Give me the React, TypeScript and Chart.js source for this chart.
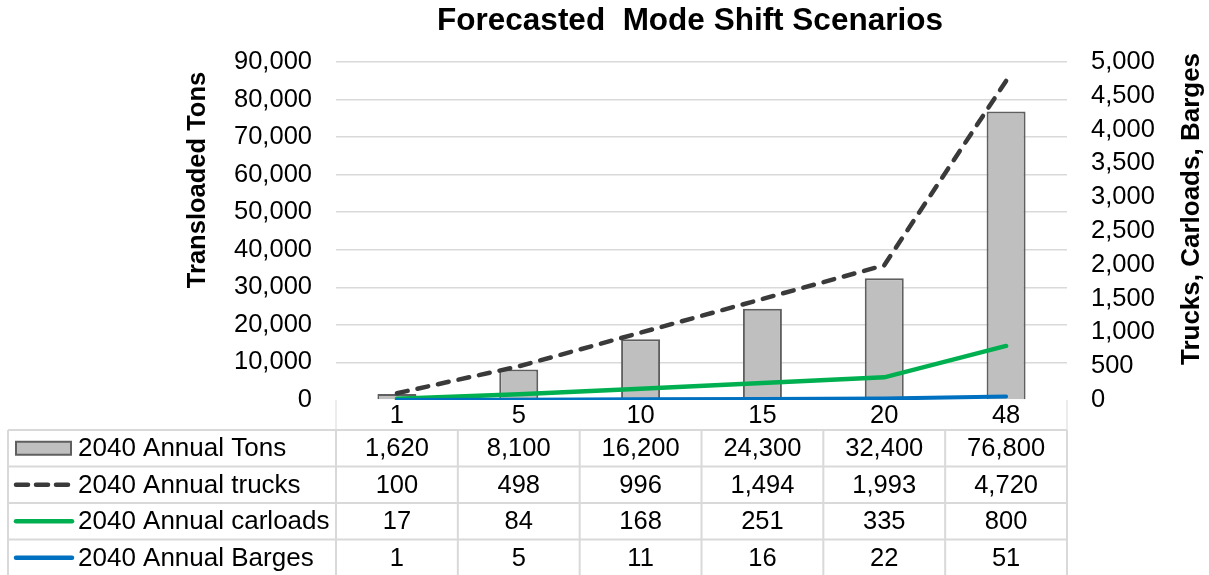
import React, { useEffect, useRef } from "react";
import { Chart, registerables } from "chart.js";

Chart.register(...registerables);

const chartTitle = "Forecasted  Mode Shift Scenarios";
const leftAxisTitle = "Transloaded Tons";
const rightAxisTitle = "Trucks, Carloads, Barges";
const categories = ["1", "5", "10", "15", "20", "48"];
const seriesLabels = [
  "2040 Annual Tons",
  "2040 Annual trucks",
  "2040 Annual carloads",
  "2040 Annual Barges",
];
const annualTons = [1620, 8100, 16200, 24300, 32400, 76800];
const annualTrucks = [100, 498, 996, 1494, 1993, 4720];
const annualCarloads = [17, 84, 168, 251, 335, 800];
const annualBarges = [1, 5, 11, 16, 22, 51];
const leftAxisMax = 90000;
const leftAxisStep = 10000;
const rightAxisMax = 5000;
const rightAxisStep = 500;

const FONT = "'Liberation Sans', Arial, sans-serif";
const BAR_FILL = "#bfbfbf";
const BAR_BORDER = "#5f5f5f";
const TRUCK_COLOR = "#3a3a3a";
const CARLOAD_COLOR = "#00b050";
const BARGE_COLOR = "#0070c0";
const GRID = "#d9d9d9";

const fmt = (v: number) => v.toLocaleString("en-US");

const overlayPlugin = {
  id: "overlay",
  afterDraw(chart: any) {
    const ctx = chart.ctx as CanvasRenderingContext2D;
    const xs = chart.scales.x;
    const centers = categories.map((_, i) => xs.getPixelForValue(i));
    const half = (centers[1] - centers[0]) / 2;
    const left = chart.chartArea.left;
    const right = chart.chartArea.right;
    const tableLeft = 8;
    const headerTop = chart.chartArea.bottom;
    const tableTop = 430;
    const rowH = 36.5;
    const rows = [annualTons, annualTrucks, annualCarloads, annualBarges];

    ctx.save();
    ctx.fillStyle = "#000";
    ctx.font = `bold 31.5px ${FONT}`;
    ctx.textAlign = "center";
    ctx.textBaseline = "alphabetic";
    ctx.fillText(chartTitle, 690, 30);

    ctx.save();
    ctx.translate(205, 180);
    ctx.rotate(-Math.PI / 2);
    ctx.font = `bold 25.5px ${FONT}`;
    ctx.fillText(leftAxisTitle, 0, 0);
    ctx.restore();

    ctx.save();
    ctx.translate(1199, 209);
    ctx.rotate(-Math.PI / 2);
    ctx.font = `bold 26px ${FONT}`;
    ctx.fillText(rightAxisTitle, 0, 0);
    ctx.restore();

    ctx.strokeStyle = "#e6e6e6";
    ctx.lineWidth = 1.5;
    ctx.beginPath();
    ctx.moveTo(left, headerTop);
    ctx.lineTo(left, tableTop);
    ctx.moveTo(right, headerTop);
    ctx.lineTo(right, tableTop);
    ctx.stroke();

    ctx.font = `25.5px ${FONT}`;
    ctx.textBaseline = "middle";
    ctx.textAlign = "center";
    categories.forEach((c, i) => ctx.fillText(c, centers[i], 415.5));

    ctx.strokeStyle = GRID;
    ctx.lineWidth = 2;
    ctx.beginPath();
    for (let r = 0; r <= rows.length; r++) {
      const y = tableTop + r * rowH;
      ctx.moveTo(tableLeft, y);
      ctx.lineTo(right, y);
    }
    const vx = [tableLeft, ...centers.map((c) => c - half), right];
    vx.forEach((x) => {
      ctx.moveTo(x, tableTop);
      ctx.lineTo(x, tableTop + rows.length * rowH);
    });
    ctx.stroke();

    rows.forEach((vals, r) => {
      const cy = tableTop + r * rowH + rowH / 2 + 1;
      vals.forEach((v, i) => ctx.fillText(fmt(v), centers[i], cy));
    });

    ctx.textAlign = "left";
    ctx.font = `26px ${FONT}`;
    seriesLabels.forEach((lab, r) => {
      const cy = tableTop + r * rowH + rowH / 2;
      ctx.save();
      if (r === 0) {
        ctx.fillStyle = BAR_FILL;
        ctx.strokeStyle = BAR_BORDER;
        ctx.lineWidth = 2;
        ctx.fillRect(16, cy - 6.5, 55, 13);
        ctx.strokeRect(16, cy - 6.5, 55, 13);
      } else {
        const col = r === 1 ? TRUCK_COLOR : r === 2 ? CARLOAD_COLOR : BARGE_COLOR;
        ctx.strokeStyle = col;
        ctx.lineWidth = 4.5;
        ctx.lineCap = "round";
        if (r === 1) ctx.setLineDash([12, 8]);
        ctx.beginPath();
        ctx.moveTo(16, cy);
        ctx.lineTo(72, cy);
        ctx.stroke();
      }
      ctx.restore();
      ctx.fillStyle = "#000";
      ctx.fillText(lab, 78, cy + 1);
    });
    ctx.restore();
  },
};

export default function App() {
  const canvasRef = useRef<HTMLCanvasElement | null>(null);

  useEffect(() => {
    const canvas = canvasRef.current;
    if (!canvas) return;
    const chart = new Chart(canvas, {
      type: "bar",
      data: {
        labels: categories,
        datasets: [
          {
            type: "line",
            label: seriesLabels[3],
            data: annualBarges,
            yAxisID: "y1",
            borderColor: BARGE_COLOR,
            borderWidth: 4,
            pointRadius: 0,
            borderCapStyle: "round",
            order: 0,
          },
          {
            type: "line",
            label: seriesLabels[2],
            data: annualCarloads,
            yAxisID: "y1",
            borderColor: CARLOAD_COLOR,
            borderWidth: 4.5,
            pointRadius: 0,
            borderCapStyle: "round",
            order: 1,
          },
          {
            type: "line",
            label: seriesLabels[1],
            data: annualTrucks,
            yAxisID: "y1",
            borderColor: TRUCK_COLOR,
            borderWidth: 4.5,
            borderDash: [11, 10],
            borderCapStyle: "round",
            pointRadius: 0,
            order: 2,
          },
          {
            type: "bar",
            label: seriesLabels[0],
            data: annualTons,
            yAxisID: "y",
            backgroundColor: BAR_FILL,
            borderColor: BAR_BORDER,
            borderWidth: 2,
            categoryPercentage: 1,
            barPercentage: 0.32,
            order: 3,
          },
        ],
      },
      options: {
        responsive: false,
        animation: false,
        devicePixelRatio: 1,
        layout: { padding: { top: 62, left: 0, right: 0, bottom: 0 } },
        plugins: { legend: { display: false }, tooltip: { enabled: false }, title: { display: false } },
        scales: {
          x: {
            grid: { display: false },
            border: { display: false },
            ticks: { display: false },
            afterFit: (s: any) => {
              s.height = 175;
            },
          },
          y: {
            position: "left",
            min: 0,
            max: leftAxisMax,
            border: { display: false },
            grid: {
              drawTicks: false,
              lineWidth: 1.5,
              color: (c: any) => (c.tick && c.tick.value === 0 ? "rgba(0,0,0,0)" : GRID),
            },
            ticks: {
              stepSize: leftAxisStep,
              autoSkip: false,
              padding: 24,
              color: "#000",
              font: { family: FONT, size: 25.5 },
              callback: (v: any) => fmt(Number(v)),
            },
            afterFit: (s: any) => {
              s.width = 336;
            },
          },
          y1: {
            position: "right",
            min: 0,
            max: rightAxisMax,
            border: { display: false },
            grid: { display: false, drawTicks: false },
            ticks: {
              stepSize: rightAxisStep,
              autoSkip: false,
              padding: 24,
              color: "#000",
              font: { family: FONT, size: 25.5 },
              callback: (v: any) => fmt(Number(v)),
            },
            afterFit: (s: any) => {
              s.width = 1209 - 1067;
            },
          },
        },
      },
      plugins: [overlayPlugin],
    } as any);
    return () => chart.destroy();
  }, []);

  return (
    <div style={{ position: "absolute", left: 0, top: 0, width: 1209, height: 575, background: "#fff" }}>
      <canvas ref={canvasRef} width={1209} height={575} style={{ width: 1209, height: 575, display: "block" }} />
    </div>
  );
}
